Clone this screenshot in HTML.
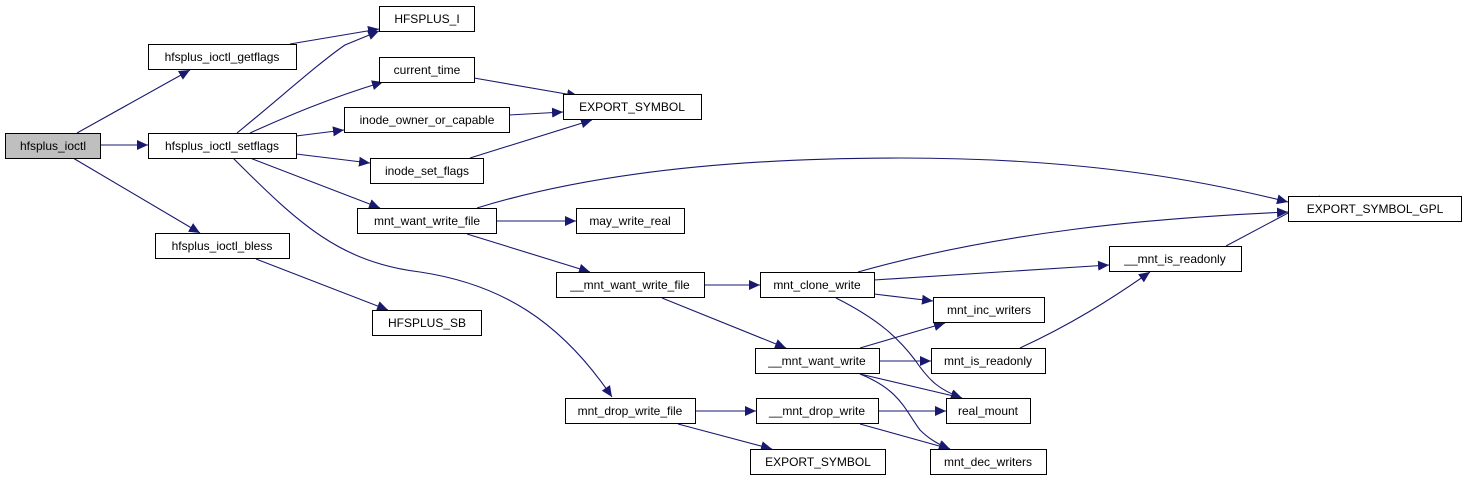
<!DOCTYPE html>
<html><head><meta charset="utf-8"><style>
html,body{margin:0;padding:0;background:#fff;width:1467px;height:481px;overflow:hidden}
svg text{font-family:"Liberation Sans",sans-serif;font-size:12px;fill:#000;text-anchor:middle}
</style></head><body>
<svg width="1467" height="481" viewBox="0 0 1467 481" xmlns="http://www.w3.org/2000/svg">
<defs><marker id="a" markerUnits="userSpaceOnUse" markerWidth="12" markerHeight="10" refX="11" refY="5" orient="auto"><path d="M0,0 L11,5 L0,10 z" fill="#191970"/></marker></defs>
<g fill="none" stroke="#191970" stroke-width="1.1" marker-end="url(#a)">
<path d="M77,133 L190,70"/>
<path d="M100,145 L148,145"/>
<path d="M73,158 L200,233"/>
<path d="M290,44 L379,29"/>
<path d="M237,133 C280,98 320,62 345,45 L379,31"/>
<path d="M250,133 C290,115 330,98 383,82"/>
<path d="M296,136 L344,130"/>
<path d="M296,154 L370,163"/>
<path d="M250,158 L380,208"/>
<path d="M233,158 C300,225 340,262 420,272 C500,284 560,320 612,397"/>
<path d="M256,259 L388,310"/>
<path d="M474,78 L578,96"/>
<path d="M509,115 L563,112"/>
<path d="M470,158 L592,120"/>
<path d="M477,208 C600,170 750,158 900,158 C1100,158 1220,185 1288,202"/>
<path d="M496,221 L576,221"/>
<path d="M467,234 L590,272"/>
<path d="M704,285 L760,285"/>
<path d="M662,298 L786,348"/>
<path d="M858,272 C1000,232 1150,218 1288,212"/>
<path d="M1226,272 L1320,222" transform="translate(0,-26)"/>
<path d="M874,280 L1109,265"/>
<path d="M874,294 L933,301"/>
<path d="M836,298 C880,320 900,340 915,360 C930,382 940,390 962,398"/>
<path d="M860,348 L945,323"/>
<path d="M879,361 L931,361"/>
<path d="M860,374 L962,398"/>
<path d="M860,374 C900,390 905,410 920,430 C930,440 940,445 950,449"/>
<path d="M1020,348 C1070,325 1110,300 1150,272"/>
<path d="M695,411 L756,411"/>
<path d="M678,424 L772,449"/>
<path d="M878,411 L946,411"/>
<path d="M860,424 L950,449"/>
</g>
<g stroke="#000" stroke-width="1" fill="#fff">
<rect x="5.5" y="133.5" width="95" height="25" fill="#bfbfbf"/>
<rect x="148.5" y="44.5" width="148" height="25"/>
<rect x="148.5" y="133.5" width="148" height="25"/>
<rect x="155.5" y="233.5" width="134" height="25"/>
<rect x="379.5" y="6.5" width="95" height="25"/>
<rect x="379.5" y="57.5" width="95" height="25"/>
<rect x="344.5" y="107.5" width="165" height="25"/>
<rect x="370.5" y="158.5" width="113" height="25"/>
<rect x="357.5" y="208.5" width="139" height="25"/>
<rect x="372.5" y="310.5" width="109" height="25"/>
<rect x="563.5" y="94.5" width="138" height="25"/>
<rect x="576.5" y="208.5" width="108" height="25"/>
<rect x="556.5" y="272.5" width="148" height="25"/>
<rect x="565.5" y="398.5" width="130" height="25"/>
<rect x="1288.5" y="196.5" width="173" height="25"/>
<rect x="760.5" y="272.5" width="114" height="25"/>
<rect x="1109.5" y="246.5" width="132" height="25"/>
<rect x="933.5" y="297.5" width="111" height="25"/>
<rect x="755.5" y="348.5" width="124" height="25"/>
<rect x="931.5" y="348.5" width="114" height="25"/>
<rect x="756.5" y="398.5" width="122" height="25"/>
<rect x="946.5" y="398.5" width="84" height="25"/>
<rect x="750.5" y="449.5" width="135" height="25"/>
<rect x="930.5" y="449.5" width="116" height="25"/>
</g>
<g>
<text x="53" y="150">hfsplus_ioctl</text>
<text x="222" y="61">hfsplus_ioctl_getflags</text>
<text x="222" y="150">hfsplus_ioctl_setflags</text>
<text x="222" y="250">hfsplus_ioctl_bless</text>
<text x="427" y="23">HFSPLUS_I</text>
<text x="427" y="74">current_time</text>
<text x="427" y="124">inode_owner_or_capable</text>
<text x="427" y="175">inode_set_flags</text>
<text x="427" y="225">mnt_want_write_file</text>
<text x="427" y="327">HFSPLUS_SB</text>
<text x="632" y="111">EXPORT_SYMBOL</text>
<text x="630" y="225">may_write_real</text>
<text x="630" y="289">__mnt_want_write_file</text>
<text x="630" y="415">mnt_drop_write_file</text>
<text x="1375" y="213">EXPORT_SYMBOL_GPL</text>
<text x="817" y="289">mnt_clone_write</text>
<text x="1175" y="263">__mnt_is_readonly</text>
<text x="989" y="314">mnt_inc_writers</text>
<text x="817" y="365">__mnt_want_write</text>
<text x="988" y="365">mnt_is_readonly</text>
<text x="817" y="415">__mnt_drop_write</text>
<text x="988" y="415">real_mount</text>
<text x="818" y="466">EXPORT_SYMBOL</text>
<text x="988" y="466">mnt_dec_writers</text>
</g>
</svg>
</body></html>
